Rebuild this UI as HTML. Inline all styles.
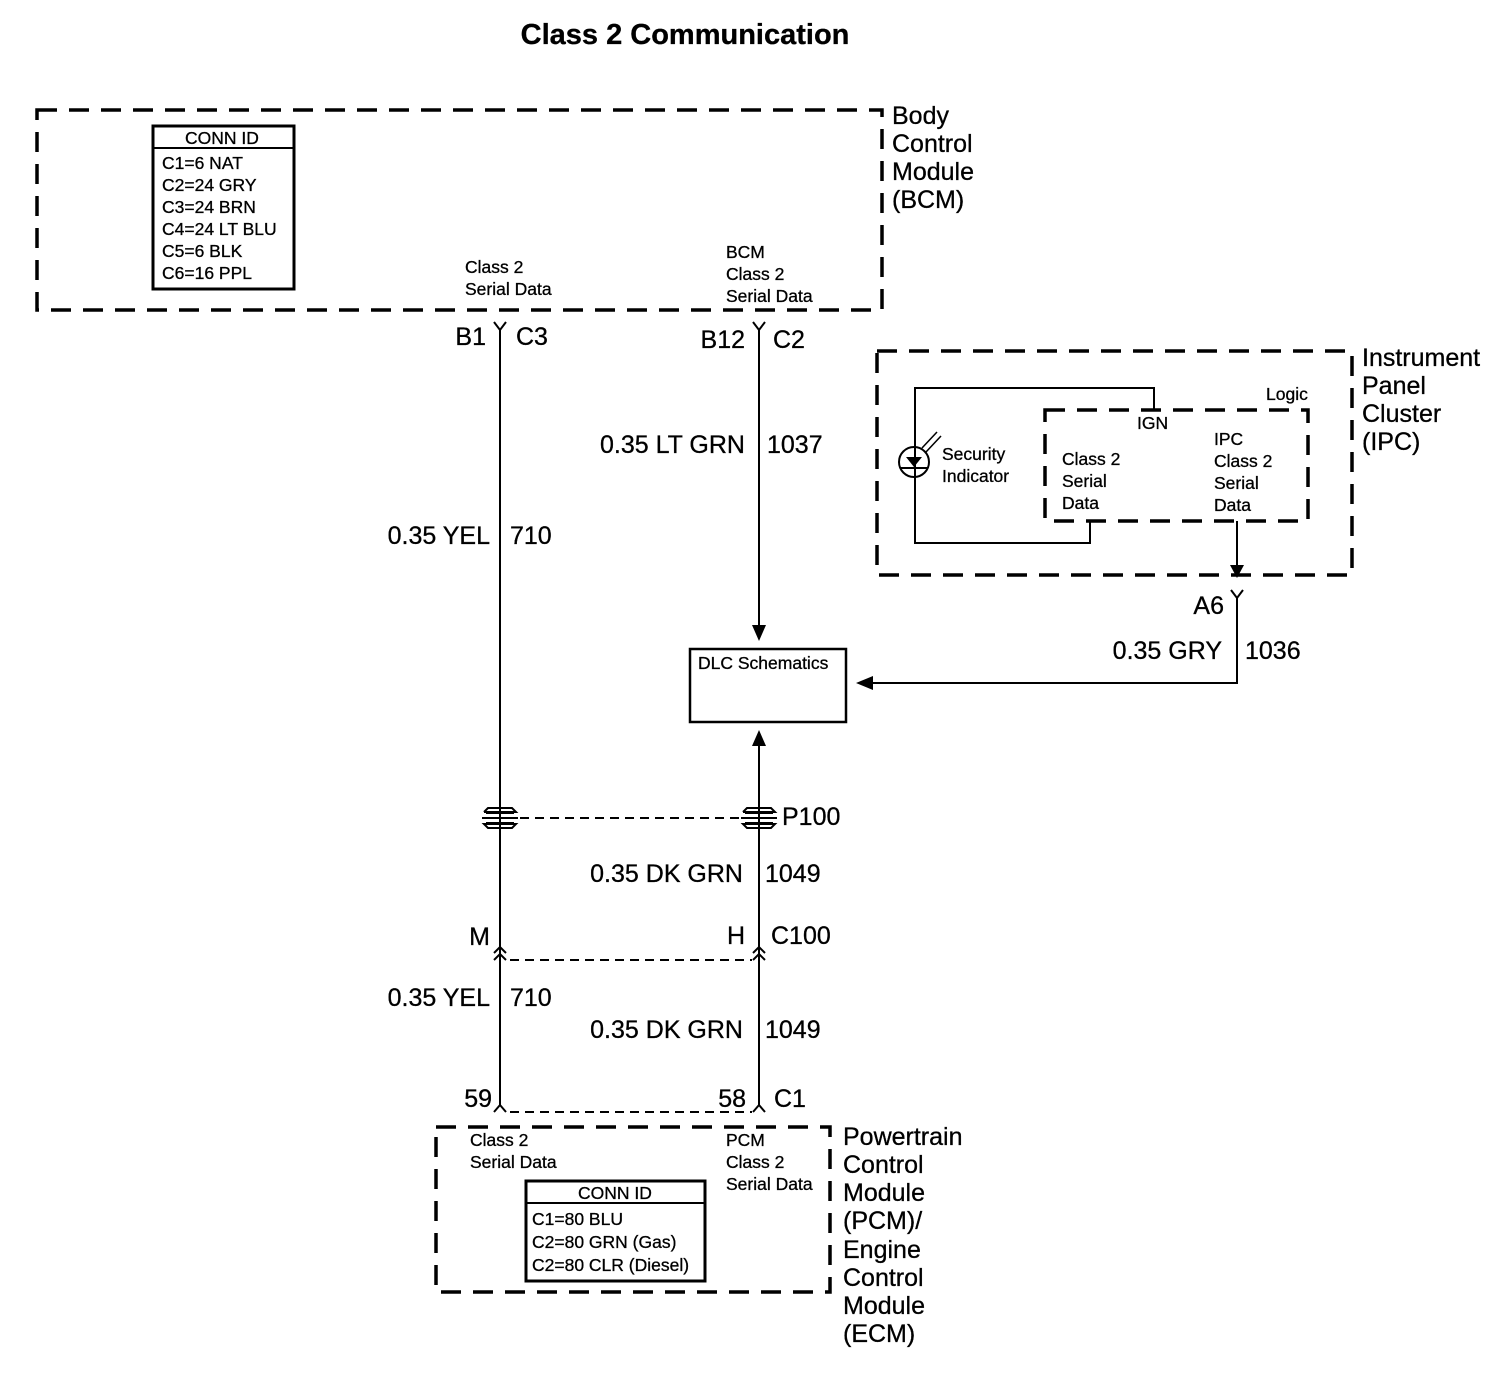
<!DOCTYPE html>
<html><head><style>
body{margin:0;background:#fff}
svg{display:block}
text{font-family:"Liberation Sans",Arial,sans-serif;fill:#000;stroke:#000;stroke-width:0.3}
.b{font-size:25px}
.s{font-size:17.5px}
</style></head><body>
<svg width="1504" height="1392" viewBox="0 0 1504 1392" xmlns="http://www.w3.org/2000/svg">
<g fill="none" stroke="#000">
<rect x="37" y="110" width="845" height="200" stroke-width="3.5" stroke-dasharray="20,12"/>
<rect x="153" y="126" width="141" height="163" stroke-width="3"/>
<line x1="153" y1="148" x2="294" y2="148" stroke-width="2"/>
<rect x="877" y="351" width="475" height="224" stroke-width="3.5" stroke-dasharray="20,12"/>
<rect x="1045" y="410" width="263" height="111" stroke-width="3.5" stroke-dasharray="20,12"/>
<polyline points="1154,409 1154,388 915,388 915,543 1090,543 1090,521" stroke-width="2"/>
<circle cx="914" cy="462" r="15" stroke-width="2"/>
<rect x="436" y="1127" width="394" height="165" stroke-width="3.5" stroke-dasharray="20,12"/>
<rect x="526" y="1181" width="179" height="100" stroke-width="3"/>
<line x1="526" y1="1203" x2="705" y2="1203" stroke-width="2"/>
<rect x="690" y="649" width="156" height="73" stroke-width="2.5"/>
<line x1="500" y1="330" x2="500" y2="1105" stroke-width="2"/>
<line x1="759" y1="330" x2="759" y2="632" stroke-width="2"/>
<line x1="759" y1="745" x2="759" y2="1105" stroke-width="2"/>
<polyline points="1237,598 1237,683 872,683" stroke-width="2"/>
<line x1="1237" y1="521" x2="1237" y2="568" stroke-width="2"/>
<polyline points="494,322 500,330 506,322" stroke-width="2"/>
<polyline points="753,322 759,330 765,322" stroke-width="2"/>
<polyline points="1231,590 1237,598 1243,590" stroke-width="2"/>
<line x1="520" y1="818" x2="740" y2="818" stroke-width="2" stroke-dasharray="9,6"/>
<line x1="510" y1="960" x2="752" y2="960" stroke-width="2" stroke-dasharray="9,6"/>
<line x1="510" y1="1112" x2="752" y2="1112" stroke-width="2" stroke-dasharray="9,6"/>
<polyline points="494,953 500,947 506,953" stroke-width="2"/>
<polyline points="494,960 500,954 506,960" stroke-width="2"/>
<polyline points="753,953 759,947 765,953" stroke-width="2"/>
<polyline points="753,960 759,954 765,960" stroke-width="2"/>
<polyline points="494,1112 500,1105 506,1112" stroke-width="2"/>
<polyline points="753,1112 759,1105 765,1112" stroke-width="2"/>
<g stroke-width="2">
<path d="M484,812 L488,808 L512,808 L516,812 L484,812 M482,818 L518,818 M484,824 L488,828 L512,828 L516,824 Z"/>
<line x1="486" y1="813" x2="514" y2="813"/><line x1="486" y1="823" x2="514" y2="823"/>
<path d="M743,812 L747,808 L771,808 L775,812 L743,812 M741,818 L777,818 M743,824 L747,828 L771,828 L775,824 Z"/>
<line x1="745" y1="813" x2="773" y2="813"/><line x1="745" y1="823" x2="773" y2="823"/>
</g>
<line x1="922" y1="448" x2="937" y2="432" stroke-width="1.5"/>
<line x1="926" y1="452" x2="941" y2="436" stroke-width="1.5"/>
<line x1="900" y1="468" x2="928" y2="468" stroke-width="2"/>
</g>
<g fill="#000">
<polygon points="752,625 766,625 759,641"/>
<polygon points="752,746 766,746 759,730"/>
<polygon points="873,676 873,690 856,683"/>
<polygon points="1230,565 1244,565 1237,578"/>
<polygon points="906,457 922,457 914,467"/>
</g>
<text x="685" y="44" text-anchor="middle" font-weight="bold" style="font-size:29px">Class 2 Communication</text>
<text x="222" y="144" class="s" text-anchor="middle">CONN ID</text>
<text x="162" y="169" class="s">C1=6 NAT</text>
<text x="162" y="191" class="s">C2=24 GRY</text>
<text x="162" y="213" class="s">C3=24 BRN</text>
<text x="162" y="235" class="s">C4=24 LT BLU</text>
<text x="162" y="257" class="s">C5=6 BLK</text>
<text x="162" y="279" class="s">C6=16 PPL</text>
<text x="892" y="124" class="b">Body</text>
<text x="892" y="152" class="b">Control</text>
<text x="892" y="180" class="b">Module</text>
<text x="892" y="208" class="b">(BCM)</text>
<text x="465" y="273" class="s">Class 2</text>
<text x="465" y="295" class="s">Serial Data</text>
<text x="726" y="258" class="s">BCM</text>
<text x="726" y="280" class="s">Class 2</text>
<text x="726" y="302" class="s">Serial Data</text>
<text x="486" y="345" class="b" text-anchor="end">B1</text>
<text x="516" y="345" class="b">C3</text>
<text x="745" y="348" class="b" text-anchor="end">B12</text>
<text x="773" y="348" class="b">C2</text>
<text x="745" y="453" class="b" text-anchor="end">0.35 LT GRN</text>
<text x="767" y="453" class="b">1037</text>
<text x="490" y="544" class="b" text-anchor="end">0.35 YEL</text>
<text x="510" y="544" class="b">710</text>
<text x="1362" y="366" class="b">Instrument</text>
<text x="1362" y="394" class="b">Panel</text>
<text x="1362" y="422" class="b">Cluster</text>
<text x="1362" y="450" class="b">(IPC)</text>
<text x="1266" y="400" class="s">Logic</text>
<text x="1137" y="429" class="s">IGN</text>
<text x="942" y="460" class="s">Security</text>
<text x="942" y="482" class="s">Indicator</text>
<text x="1062" y="465" class="s">Class 2</text>
<text x="1062" y="487" class="s">Serial</text>
<text x="1062" y="509" class="s">Data</text>
<text x="1214" y="445" class="s">IPC</text>
<text x="1214" y="467" class="s">Class 2</text>
<text x="1214" y="489" class="s">Serial</text>
<text x="1214" y="511" class="s">Data</text>
<text x="1224" y="614" class="b" text-anchor="end">A6</text>
<text x="1222" y="659" class="b" text-anchor="end">0.35 GRY</text>
<text x="1245" y="659" class="b">1036</text>
<text x="698" y="669" class="s">DLC Schematics</text>
<text x="782" y="825" class="b">P100</text>
<text x="743" y="882" class="b" text-anchor="end">0.35 DK GRN</text>
<text x="765" y="882" class="b">1049</text>
<text x="490" y="945" class="b" text-anchor="end">M</text>
<text x="745" y="944" class="b" text-anchor="end">H</text>
<text x="771" y="944" class="b">C100</text>
<text x="490" y="1006" class="b" text-anchor="end">0.35 YEL</text>
<text x="510" y="1006" class="b">710</text>
<text x="743" y="1038" class="b" text-anchor="end">0.35 DK GRN</text>
<text x="765" y="1038" class="b">1049</text>
<text x="492" y="1107" class="b" text-anchor="end">59</text>
<text x="746" y="1107" class="b" text-anchor="end">58</text>
<text x="774" y="1107" class="b">C1</text>
<text x="470" y="1146" class="s">Class 2</text>
<text x="470" y="1168" class="s">Serial Data</text>
<text x="726" y="1146" class="s">PCM</text>
<text x="726" y="1168" class="s">Class 2</text>
<text x="726" y="1190" class="s">Serial Data</text>
<text x="615" y="1199" class="s" text-anchor="middle">CONN ID</text>
<text x="532" y="1225" class="s">C1=80 BLU</text>
<text x="532" y="1248" class="s">C2=80 GRN (Gas)</text>
<text x="532" y="1271" class="s">C2=80 CLR (Diesel)</text>
<text x="843" y="1145" class="b">Powertrain</text>
<text x="843" y="1173" class="b">Control</text>
<text x="843" y="1201" class="b">Module</text>
<text x="843" y="1229" class="b">(PCM)/</text>
<text x="843" y="1258" class="b">Engine</text>
<text x="843" y="1286" class="b">Control</text>
<text x="843" y="1314" class="b">Module</text>
<text x="843" y="1342" class="b">(ECM)</text>
</svg>
</body></html>
